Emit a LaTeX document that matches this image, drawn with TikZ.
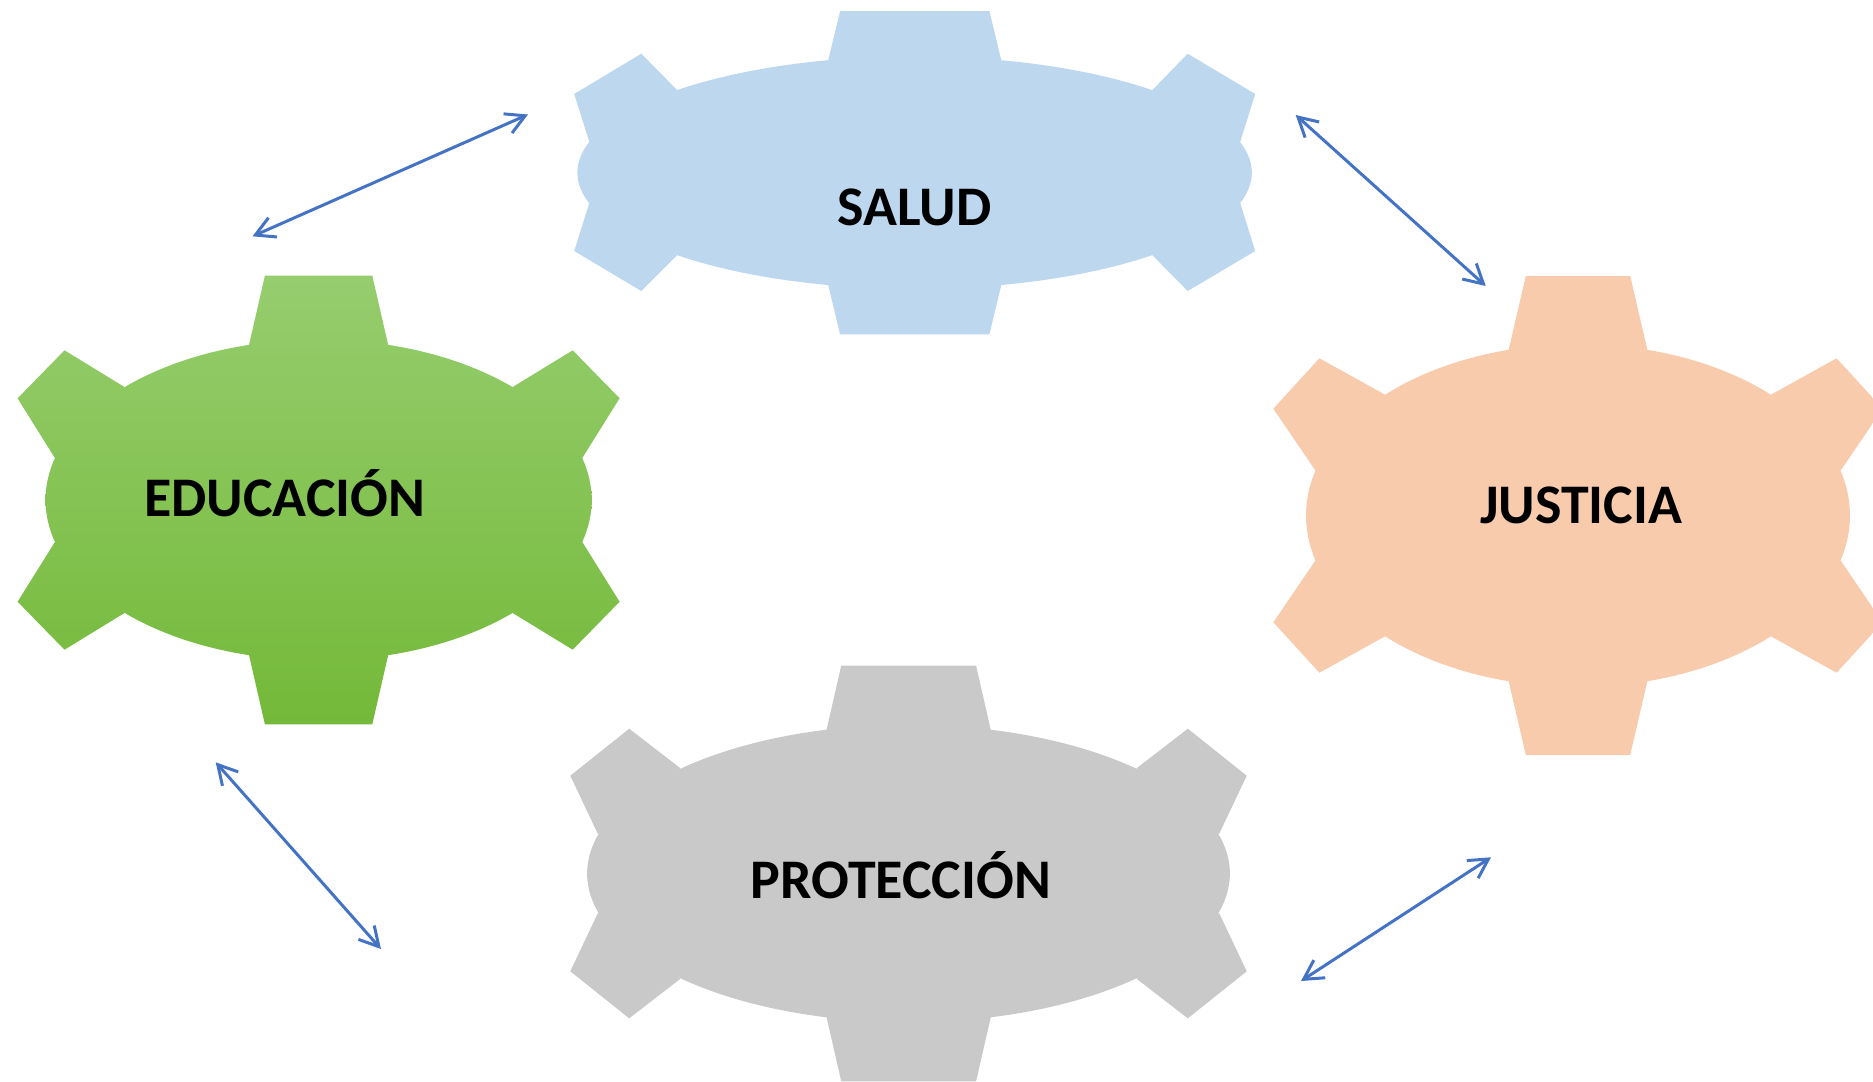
\documentclass[tikz,border=0pt]{standalone}
\usepackage{fontspec}
\setmainfont{Carlito}
\usetikzlibrary{arrows.meta}
\definecolor{saludc}{RGB}{189,215,238}
\definecolor{justc}{RGB}{248,203,173}
\definecolor{protc}{RGB}{201,201,201}
\definecolor{gtop}{RGB}{150,205,110}
\definecolor{gbot}{RGB}{116,185,57}
\definecolor{arrc}{RGB}{68,114,196}
\newcommand{\gpart}[3]{\begin{scope}\clip #3;\path[#1] #2;\end{scope}}
\tikzset{
  gearlabel/.style={anchor=base, inner sep=0pt, font=\fontsize{15.9pt}{20pt}\selectfont\bfseries, text=black},
  link/.style={draw=arrc, line width=0.85pt, {Straight Barb[length=1.9mm,width=2.1mm]}-{Straight Barb[length=1.9mm,width=2.1mm]}}
}
\begin{document}
\begin{tikzpicture}[x=0.01cm,y=-0.01cm]
\useasboundingbox (0,0) rectangle (1873,1081);
\begin{scope}
\clip (0,0) rectangle (1873,1081);
% ---------------- SALUD ----------------
\gpart{fill=saludc}{(500,0) rectangle (1300,340)}{(914.6,172.6) ellipse [x radius=3.37cm, y radius=1.162cm]}
\gpart{fill=saludc}{(500,0) rectangle (1300,340)}{(828.2,60.3) -- (840.1,11) -- (989.4,11) -- (1001.3,60.3) -- cycle}
\gpart{fill=saludc}{(500,0) rectangle (1300,340)}{(828.2,284.9) -- (840.1,334.3) -- (989.4,334.3) -- (1001.3,284.9) -- cycle}
\gpart{fill=saludc}{(500,0) rectangle (1300,340)}{(677.1,90) -- (641.3,53.7) -- (574.2,94) -- (589.4,142) -- cycle}
\gpart{fill=saludc}{(500,0) rectangle (1300,340)}{(589.4,202.7) -- (574.2,251) -- (641.3,291) -- (677.1,255.3) -- cycle}
\gpart{fill=saludc}{(500,0) rectangle (1300,340)}{(1152.4,90) -- (1187.7,53.7) -- (1255.2,94) -- (1240.1,142) -- cycle}
\gpart{fill=saludc}{(500,0) rectangle (1300,340)}{(1240.1,202.7) -- (1255.2,251) -- (1187.7,291) -- (1152.4,255.3) -- cycle}
% ---------------- EDUCACION (gradient) ----------------
\gpart{top color=gtop,bottom color=gbot}{(0,275.7) rectangle (700,724.3)}{(318.6,500) ellipse [x radius=2.729cm, y radius=1.603cm]}
\gpart{top color=gtop,bottom color=gbot}{(0,275.7) rectangle (700,724.3)}{(249,345) -- (264.9,275.7) -- (372.3,275.7) -- (388.2,345) -- cycle}
\gpart{top color=gtop,bottom color=gbot}{(0,275.7) rectangle (700,724.3)}{(249,655) -- (264.9,724.3) -- (372.3,724.3) -- (388.2,655) -- cycle}
\gpart{top color=gtop,bottom color=gbot}{(0,275.7) rectangle (700,724.3)}{(124.5,387) -- (64.5,350.3) -- (17.6,398.3) -- (55.1,458.3) -- cycle}
\gpart{top color=gtop,bottom color=gbot}{(0,275.7) rectangle (700,724.3)}{(55.1,541.7) -- (17.6,601.7) -- (64.5,649.7) -- (124.5,613) -- cycle}
\gpart{top color=gtop,bottom color=gbot}{(0,275.7) rectangle (700,724.3)}{(512.7,387) -- (572.7,350.3) -- (619.6,398.3) -- (582.1,458.3) -- cycle}
\gpart{top color=gtop,bottom color=gbot}{(0,275.7) rectangle (700,724.3)}{(582.1,541.7) -- (619.6,601.7) -- (572.7,649.7) -- (512.7,613) -- cycle}
% ---------------- JUSTICIA ----------------
\gpart{fill=justc}{(1250,260) rectangle (1900,770)}{(1578,515.5) ellipse [x radius=2.718cm, y radius=1.712cm]}
\gpart{fill=justc}{(1250,260) rectangle (1900,770)}{(1508.6,350) -- (1525.8,276) -- (1630.2,276) -- (1647.4,350) -- cycle}
\gpart{fill=justc}{(1250,260) rectangle (1900,770)}{(1508.6,681) -- (1525.8,755) -- (1630.2,755) -- (1647.4,681) -- cycle}
\gpart{fill=justc}{(1250,260) rectangle (1900,770)}{(1385.1,394.7) -- (1319.4,358.3) -- (1273.3,408.7) -- (1315.5,470.7) -- cycle}
\gpart{fill=justc}{(1250,260) rectangle (1900,770)}{(1315.5,560.3) -- (1273.3,622.3) -- (1319.4,672.7) -- (1385.1,636.3) -- cycle}
\gpart{fill=justc}{(1250,260) rectangle (1900,770)}{(1770.9,394.7) -- (1836.6,358.3) -- (1882.7,408.7) -- (1840.5,470.7) -- cycle}
\gpart{fill=justc}{(1250,260) rectangle (1900,770)}{(1840.5,560.3) -- (1882.7,622.3) -- (1836.6,672.7) -- (1770.9,636.3) -- cycle}
% ---------------- PROTECCION ----------------
\gpart{fill=protc}{(550,650) rectangle (1270,1090)}{(908.5,873.5) ellipse [x radius=3.212cm, y radius=1.486cm]}
\gpart{fill=protc}{(550,650) rectangle (1270,1090)}{(826.5,730) -- (841.2,665.7) -- (976.1,665.7) -- (990.8,730) -- cycle}
\gpart{fill=protc}{(550,650) rectangle (1270,1090)}{(826.5,1017) -- (841.2,1081.3) -- (976.1,1081.3) -- (990.8,1017) -- cycle}
\gpart{fill=protc}{(550,650) rectangle (1270,1090)}{(680.5,768.3) -- (629.2,728.7) -- (570.3,775.7) -- (597.9,834) -- cycle}
\gpart{fill=protc}{(550,650) rectangle (1270,1090)}{(597.9,913) -- (570.3,971.3) -- (629.2,1018.3) -- (680.5,978.7) -- cycle}
\gpart{fill=protc}{(550,650) rectangle (1270,1090)}{(1136.5,768.3) -- (1187.8,728.7) -- (1246.7,775.7) -- (1219.1,834) -- cycle}
\gpart{fill=protc}{(550,650) rectangle (1270,1090)}{(1219.1,913) -- (1246.7,971.3) -- (1187.8,1018.3) -- (1136.5,978.7) -- cycle}
\end{scope}
% ---------------- labels ----------------
\node[gearlabel] (salud) at (914.7,225) {SALUD};
\node[gearlabel] (educacion) at (284.8,516) {EDUCACIÓN};
\node[gearlabel] (justicia) at (1581,523.5) {JUSTICIA};
\node[gearlabel] (proteccion) at (901,898.3) {PROTECCIÓN};
% ---------------- arrows ----------------
\coordinate (a1s) at (252.5,236.3);
\coordinate (a1e) at (528,114.5);
\coordinate (a2s) at (1295.7,115);
\coordinate (a2e) at (1485.7,286);
\coordinate (a3s) at (215.7,762.3);
\coordinate (a3e) at (381,949);
\coordinate (a4s) at (1301,981);
\coordinate (a4e) at (1491,857.3);
\draw[link] (a1s) -- (a1e);
\draw[link] (a2s) -- (a2e);
\draw[link] (a3s) -- (a3e);
\draw[link] (a4s) -- (a4e);
\end{tikzpicture}
\end{document}
